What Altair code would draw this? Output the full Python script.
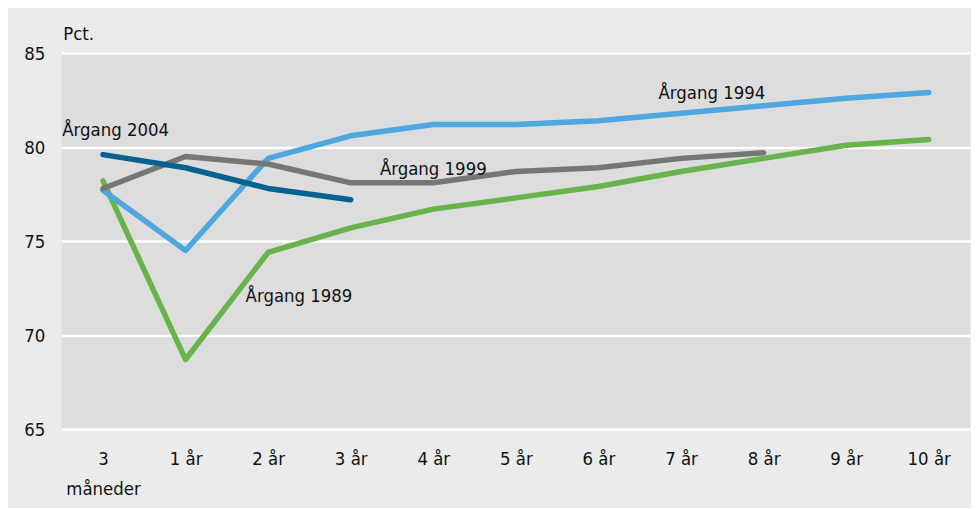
import altair as alt
import pandas as pd

categories = ["3 måneder", "1 år", "2 år", "3 år", "4 år", "5 år", "6 år", "7 år", "8 år", "9 år", "10 år"]
aargang_1989 = [78.2, 68.7, 74.4, 75.7, 76.7, 77.3, 77.9, 78.7, 79.4, 80.1, 80.4]
aargang_1994 = [77.7, 74.5, 79.4, 80.6, 81.2, 81.2, 81.4, 81.8, 82.2, 82.6, 82.9]
aargang_1999 = [77.8, 79.5, 79.1, 78.1, 78.1, 78.7, 78.9, 79.4, 79.7]
aargang_2004 = [79.6, 78.9, 77.8, 77.2]
series_names = ["Årgang 1989", "Årgang 1994", "Årgang 1999", "Årgang 2004"]
series_colors = ["#69b34c", "#4ea7de", "#767676", "#03628f"]
y_ticks = [65, 70, 75, 80, 85]

# label anchors (category, value) for the series names
label_cats = ["2 år", "7 år", "4 år", "3 måneder"]
label_vals = [72.1, 82.85, 78.85, 80.9]

FONT = "DejaVu Sans Condensed, Liberation Sans, sans-serif"
FS = 18.5

rows = []
for name, vals in zip(series_names, [aargang_1989, aargang_1994, aargang_1999, aargang_2004]):
    for i, v in enumerate(vals):
        rows.append({"kat": categories[i], "pct": v, "serie": name, "order": i})
df = pd.DataFrame(rows)

lab = pd.DataFrame({"kat": label_cats, "pct": label_vals, "serie": series_names})

x_enc = alt.X(
    "kat:N",
    sort=categories,
    scale=alt.Scale(type="point", domain=categories, padding=0.5),
    axis=alt.Axis(
        title=None,
        domain=False,
        ticks=False,
        grid=False,
        labelAngle=0,
        labelFont=FONT,
        labelFontSize=FS,
        labelColor="#111111",
        labelPadding=21,
        labelBaseline="top",
        labelLineHeight=30,
        labelExpr="datum.value == '3 måneder' ? ['3', 'måneder'] : datum.label",
    ),
)
y_enc = alt.Y(
    "pct:Q",
    scale=alt.Scale(domain=[65, 85], nice=False, zero=False),
    axis=alt.Axis(
        values=y_ticks,
        title="Pct.",
        titleAngle=0,
        titleAlign="left",
        titleBaseline="middle",
        titleX=1,
        titleY=-20,
        titleFont=FONT,
        titleFontSize=FS,
        titleFontWeight="normal",
        titleColor="#111111",
        domain=False,
        ticks=False,
        grid=True,
        gridColor="#ffffff",
        gridWidth=2.5,
        labelFont=FONT,
        labelFontSize=FS,
        labelColor="#111111",
        labelPadding=17,
    ),
)

lines = alt.Chart(df).mark_line(strokeWidth=5.5, strokeCap="round", strokeJoin="round").encode(
    x=x_enc,
    y=y_enc,
    color=alt.Color("serie:N", scale=alt.Scale(domain=series_names, range=series_colors), legend=None),
    detail="serie:N",
    order="order:Q",
)

def label_layer(name, dx, align):
    return alt.Chart(lab[lab["serie"] == name]).mark_text(
        font=FONT, fontSize=FS, color="#111111", align=align, baseline="middle", dx=dx
    ).encode(
        x=alt.X("kat:N", sort=categories, scale=alt.Scale(type="point", domain=categories, padding=0.5)),
        y=alt.Y("pct:Q", scale=alt.Scale(domain=[65, 85], nice=False, zero=False)),
        text="serie:N",
    )

labels = (
    label_layer("Årgang 1989", 31, "center")
    + label_layer("Årgang 1994", 31, "center")
    + label_layer("Årgang 1999", 0, "center")
    + label_layer("Årgang 2004", -41, "left")
)

chart = (
    alt.layer(lines, labels)
    .properties(
        width=913,
        height=378,
        autosize=alt.AutoSizeParams(type="none"),
        padding={"left": 54, "top": 44, "right": 1, "bottom": 78},
        background="#ebebeb",
    )
    .configure_view(fill="#dddddd", stroke=None)
)

chart.save("out.html", embed_options={"renderer": "svg", "actions": False})
